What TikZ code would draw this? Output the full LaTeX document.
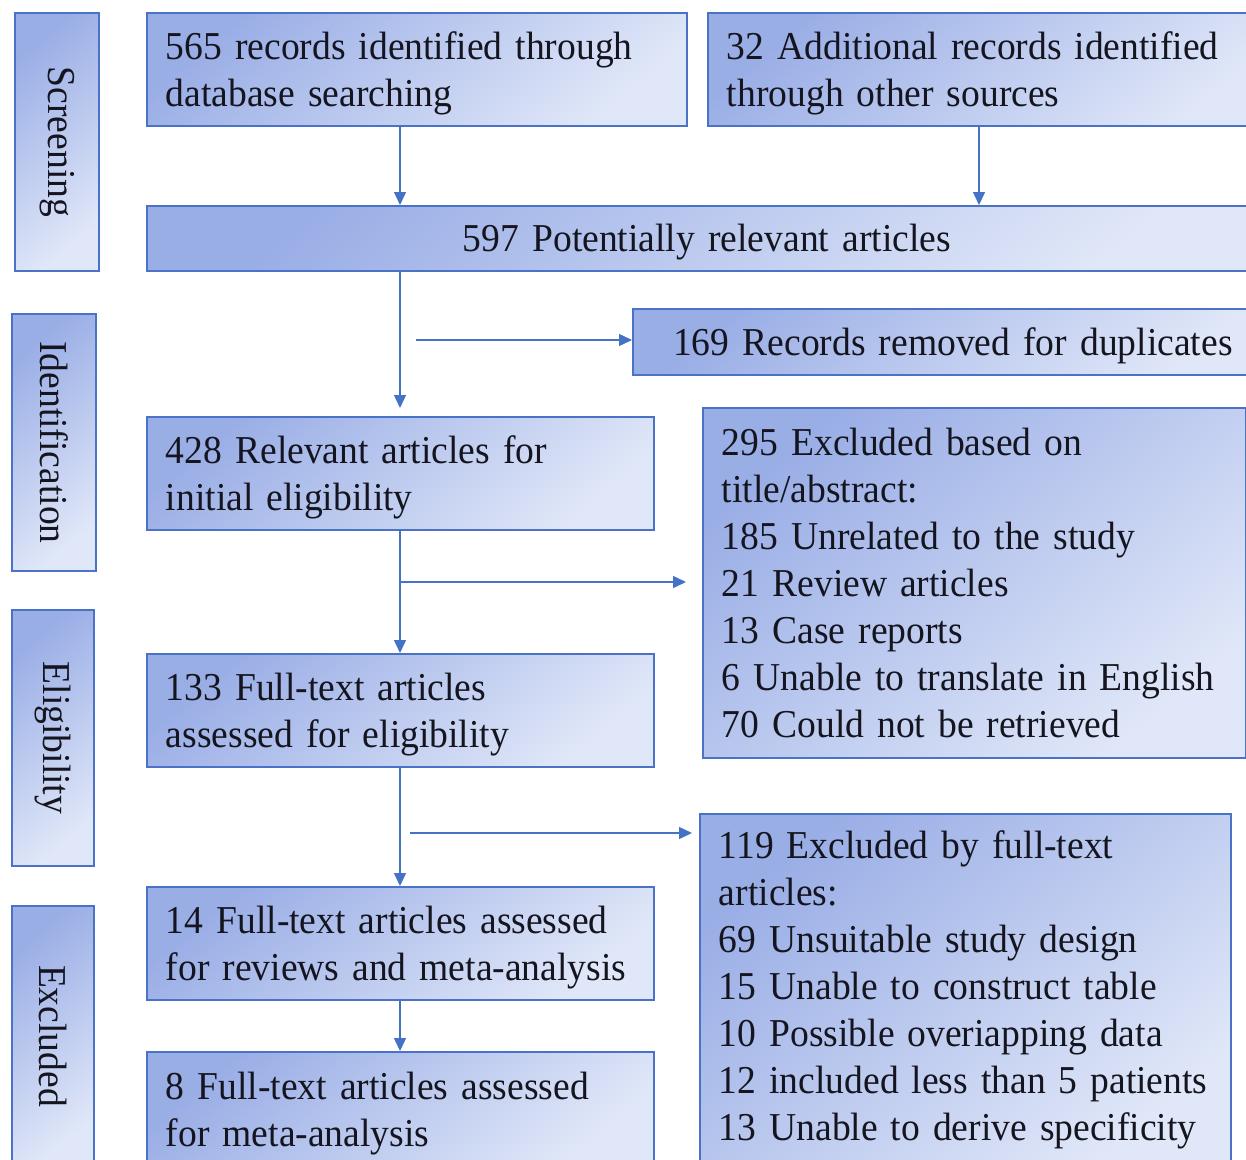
\documentclass[tikz,border=0pt]{standalone}
\usepackage{fontspec}
\setmainfont[FakeStretch=0.95]{Liberation Serif}
\usetikzlibrary{arrows.meta,calc}
\definecolor{shadeA}{HTML}{9AAEE6}
\definecolor{shadeB}{HTML}{E0E7F8}
\definecolor{edgeblue}{HTML}{4A72C6}
\definecolor{arrowblue}{HTML}{4472C4}
\definecolor{inkc}{HTML}{151520}
\newcommand\boxfont{\fontsize{22.5pt}{26.7pt}\selectfont\spaceskip=7.4pt plus 2pt minus 1pt\relax}
\begin{document}
\begin{tikzpicture}[x=0.02cm,y=-0.02cm,
  box/.style={draw=edgeblue,line width=1.1pt,top color=shadeA,bottom color=shadeB,shading angle=40,
    inner xsep=0.38cm,inner ysep=0pt,anchor=north west,text=inkc,font=\boxfont},
  lbox/.style={box,align=flush left},
  cbox/.style={box,align=center},
  lowered/.style={execute at begin node={\rule{0pt}{20pt}}},
  side/.style={box,inner sep=0pt},
  sidetext/.style={rotate=-90,anchor=center,text=inkc,font=\boxfont},
  arr/.style={draw=arrowblue,line width=0.8pt,-{Triangle[length=0.26cm,width=0.24cm]}}]
\useasboundingbox (0,0) rectangle (1246,1159);
\fill[white] (0,0) rectangle (1246,1159);

% side labels
\node[side,minimum width=1.68cm,minimum height=5.16cm,
  label={[sidetext]center:Screening}] (s1) at (14,12) {};
\node[side,minimum width=1.68cm,minimum height=5.14cm,
  label={[sidetext]center:Identification}] (s2) at (11,313) {};
\node[side,minimum width=1.64cm,minimum height=5.12cm,
  label={[sidetext]center:Eligibility}] (s3) at (11,609) {};
\node[side,minimum width=1.64cm,minimum height=5.2cm,
  label={[sidetext]center:Excluded}] (s4) at (11,905) {};

% main boxes
\node[lbox,lowered,minimum width=10.8cm,minimum height=2.26cm,text width=10.04cm] (b1) at (146,12)
  {565 records identified through\\database searching};
\node[lbox,lowered,minimum width=11.4cm,minimum height=2.26cm,text width=10.64cm] (b2) at (707,12)
  {32 Additional records identified\\through other sources};
\node[cbox,lowered,minimum width=22.4cm,minimum height=1.3cm,text width=21.64cm] (b3) at (146,205)
  {597 Potentially relevant articles};
\node[cbox,lowered,minimum width=12.8cm,minimum height=1.32cm,text width=12.04cm] (b4) at (632,308)
  {169 Records removed for duplicates};
\node[lbox,lowered,minimum width=10.14cm,minimum height=2.26cm,text width=9.38cm] (b5) at (146,416)
  {428 Relevant articles for\\initial eligibility};
\node[lbox,minimum width=10.86cm,minimum height=7.0cm,text width=10.1cm] (b6) at (702,407)
  {295 Excluded based on\\title/abstract:\\185 Unrelated to the study\\21 Review articles\\13 Case reports\\6 Unable to translate in English\\70 Could not be retrieved};
\node[lbox,lowered,minimum width=10.14cm,minimum height=2.26cm,text width=9.38cm] (b7) at (146,653)
  {133 Full-text articles\\assessed for eligibility};
\node[lbox,minimum width=10.62cm,minimum height=7.04cm,text width=9.86cm] (b8) at (699,813)
  {119 Excluded by full-text\\articles:\\69 Unsuitable study design\\15 Unable to construct table\\10 Possible overiapping data\\12 included less than 5 patients\\13 Unable to derive specificity};
\node[lbox,lowered,minimum width=10.14cm,minimum height=2.26cm,text width=9.38cm] (b9) at (146,886)
  {14 Full-text articles assessed\\for reviews and meta-analysis};
\node[lbox,lowered,minimum width=10.14cm,minimum height=2.3cm,text width=9.38cm] (b10) at (146,1051)
  {8 Full-text articles assessed\\for meta-analysis};

% connectors
\coordinate (xL) at (400,0);
\coordinate (xR) at (979,0);
\coordinate (h1) at (416,340);
\coordinate (h2) at (400,582);
\coordinate (h3) at (410,833);
\draw[arr] (b1.south -| xL) -- (b3.north -| xL);
\draw[arr] (b2.south -| xR) -- (b3.north -| xR);
\draw[arr,shorten >=0.16cm] (b3.south -| xL) -- (b5.north -| xL);
\draw[arr] (h1) -- (b4.west |- h1);
\draw[arr] (b5.south -| xL) -- (b7.north -| xL);
\draw[arr,shorten >=0.32cm] (h2) -- (b6.west |- h2);
\draw[arr] (b7.south -| xL) -- (b9.north -| xL);
\draw[arr,shorten >=0.14cm] (h3) -- (b8.west |- h3);
\draw[arr] (b9.south -| xL) -- (b10.north -| xL);
\end{tikzpicture}
\end{document}
